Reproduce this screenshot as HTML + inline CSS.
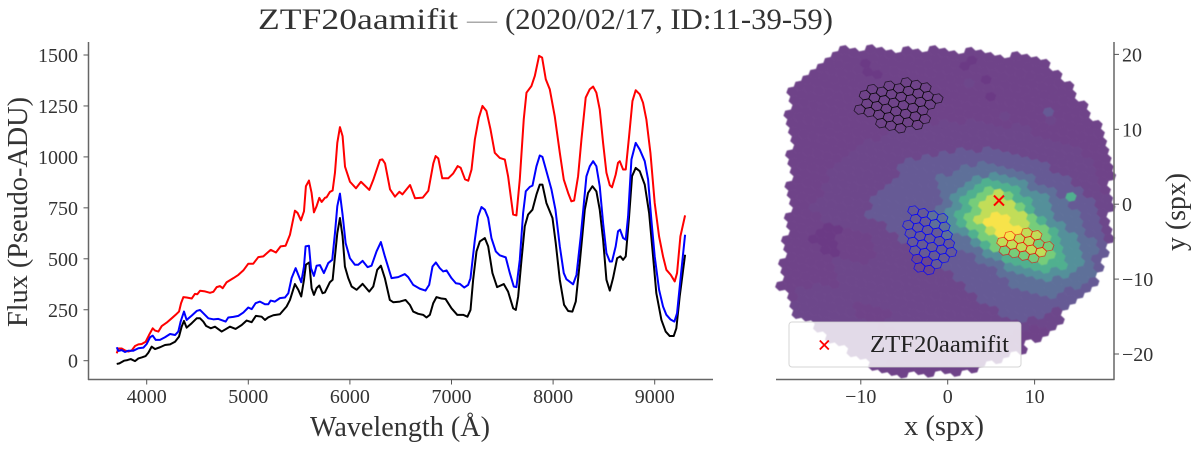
<!DOCTYPE html>
<html lang="en">
<head>
<meta charset="utf-8">
<title>ZTF20aamifit spectrum and IFU cube</title>
<style>
html,body{margin:0;padding:0;background:#fff;width:1200px;height:450px;overflow:hidden}
svg{display:block}
text{font-family:"Liberation Serif",serif;fill:#333}
#cube{filter:blur(0.5px)}
</style>
</head>
<body>
<svg id="fig" xmlns="http://www.w3.org/2000/svg" width="1200" height="450" viewBox="0 0 1200 450">
  <text x="258" y="29" font-size="30" textLength="200" lengthAdjust="spacingAndGlyphs">ZTF20aamifit</text>
  <text x="467" y="29" font-size="30" textLength="30" lengthAdjust="spacingAndGlyphs" style="fill:#aaa">—</text>
  <text x="505" y="29" font-size="30" textLength="328" lengthAdjust="spacingAndGlyphs">(2020/02/17, ID:11-39-59)</text>
  <g id="cube"></g>
  <g id="apertures"></g>
  <g id="spec"></g>
  <g id="axes"></g>
  <text x="400" y="436" font-size="28" text-anchor="middle" textLength="180" lengthAdjust="spacingAndGlyphs">Wavelength (Å)</text>
  <text transform="translate(27,212) rotate(-90)" font-size="28" text-anchor="middle" textLength="230" lengthAdjust="spacingAndGlyphs">Flux (Pseudo-ADU)</text>
  <text x="944" y="435" font-size="28" text-anchor="middle" textLength="80" lengthAdjust="spacingAndGlyphs">x (spx)</text>
  <text transform="translate(1185,212) rotate(-90)" font-size="28" text-anchor="middle" textLength="78" lengthAdjust="spacingAndGlyphs">y (spx)</text>
  <g>
    <rect x="789" y="322" width="232" height="45" rx="3" ry="3" fill="#fff" fill-opacity="0.8" stroke="#ccc" stroke-opacity="0.8" stroke-width="1"></rect>
    <g stroke="#f00" stroke-width="1.8">
      <line x1="819.8" y1="340.5" x2="828.8" y2="349.5"></line>
      <line x1="819.8" y1="349.5" x2="828.8" y2="340.5"></line>
    </g>
    <text x="870" y="352" font-size="24" textLength="139" lengthAdjust="spacingAndGlyphs" style="fill:#222">ZTF20aamifit</text>
  </g>
</svg>
<script>
const redWave = [3705,3721,3754,3787,3820,3852,3885,3918,3951,3990,4023,4059,4082,4115,4148,4197,4246,4295,4318,4338,4361,4393,4443,4475,4498,4525,4574,4623,4656,4689,4721,4748,4787,4853,4902,4951,5000,5049,5098,5148,5220,5272,5318,5367,5410,5459,5485,5518,5548,5567,5597,5623,5646,5672,5699,5722,5754,5771,5803,5830,5853,5876,5902,5928,5952,6001,6060,6109,6191,6230,6296,6319,6346,6395,6444,6487,6517,6592,6641,6717,6772,6821,6844,6870,6909,6968,7017,7061,7090,7133,7165,7197,7230,7269,7305,7344,7384,7426,7475,7525,7557,7607,7639,7672,7711,7738,7787,7820,7862,7892,7928,7967,8016,8066,8105,8148,8180,8207,8246,8279,8321,8361,8394,8426,8459,8492,8525,8558,8580,8616,8639,8656,8689,8715,8748,8781,8813,8853,8885,8918,8958,9000,9043,9082,9115,9158,9197,9220,9253,9299];
const redFlux = [36,60,60,50,45,50,72,80,82,93,126,159,148,143,170,187,208,230,241,282,312,310,305,328,326,343,340,333,338,361,366,356,385,405,421,443,476,476,508,512,544,531,561,564,618,736,725,689,733,856,884,823,728,758,799,779,799,802,828,835,922,1069,1146,1102,952,878,846,878,838,887,985,988,968,841,805,829,816,862,797,800,834,968,1004,993,895,895,919,955,947,890,883,938,1086,1192,1250,1225,1135,1020,995,987,905,717,713,889,1184,1315,1348,1397,1496,1487,1381,1332,1200,1020,889,823,782,786,905,1086,1291,1332,1345,1315,1233,1069,922,861,851,913,971,979,938,938,1102,1274,1327,1307,1266,1184,1020,774,610,512,446,421,389,430,610,713];
const blueWave = [3705,3721,3754,3787,3820,3869,3918,3967,4000,4033,4059,4089,4131,4180,4230,4279,4311,4334,4367,4393,4443,4492,4525,4557,4607,4656,4705,4777,4803,4853,4902,4951,5000,5033,5072,5115,5164,5197,5220,5262,5311,5361,5394,5426,5466,5492,5521,5548,5564,5597,5617,5646,5672,5705,5744,5787,5826,5853,5876,5902,5928,5958,6000,6049,6082,6125,6174,6213,6262,6305,6344,6410,6475,6541,6574,6623,6689,6744,6780,6813,6846,6885,6918,6951,7000,7043,7082,7125,7164,7187,7230,7262,7295,7328,7361,7393,7436,7475,7534,7574,7613,7639,7672,7705,7731,7771,7797,7836,7869,7895,7934,7984,8023,8066,8105,8131,8197,8230,8272,8328,8361,8394,8426,8459,8492,8525,8558,8580,8616,8639,8659,8689,8715,8738,8771,8813,8853,8902,8935,8967,9000,9043,9082,9115,9154,9194,9220,9253,9299];
const blueFlux = [66,48,52,43,49,49,61,64,82,115,123,102,102,115,131,126,143,192,241,200,221,244,249,233,208,203,205,192,212,215,220,236,261,253,282,290,277,277,295,290,307,310,331,405,454,421,385,462,561,564,454,416,466,469,430,479,495,626,758,820,717,577,503,471,471,490,459,466,536,582,512,405,410,425,410,372,353,344,372,462,482,454,438,443,405,380,377,359,372,405,594,708,754,741,700,602,536,517,507,430,364,361,495,725,831,853,859,954,1007,1000,930,840,741,561,430,400,375,421,610,905,954,979,954,856,676,528,487,487,561,635,643,602,594,708,987,1069,1036,979,889,692,512,348,266,225,203,192,233,397,618];
const blackWave = [3705,3731,3777,3810,3843,3885,3918,3951,3990,4016,4049,4082,4131,4180,4230,4279,4318,4344,4367,4393,4443,4492,4525,4557,4584,4630,4672,4738,4820,4875,4935,4984,5033,5075,5131,5164,5197,5246,5311,5377,5410,5459,5492,5521,5548,5567,5600,5623,5646,5672,5699,5731,5754,5803,5830,5853,5876,5902,5928,5951,5984,6017,6066,6125,6190,6230,6269,6305,6344,6393,6426,6492,6548,6590,6623,6672,6721,6754,6787,6820,6852,6902,6941,7000,7056,7115,7157,7187,7213,7246,7279,7328,7361,7403,7449,7515,7557,7607,7633,7656,7689,7721,7754,7797,7836,7869,7895,7934,7994,8026,8066,8108,8148,8190,8223,8262,8312,8344,8387,8426,8459,8492,8525,8558,8590,8630,8662,8689,8715,8748,8777,8813,8853,8902,8945,8984,9016,9066,9108,9148,9187,9213,9246,9299];
const blackFlux = [-16,-13,0,3,8,-2,11,16,23,39,69,57,66,77,80,93,118,167,195,162,184,208,208,192,171,159,167,143,167,156,175,197,189,220,216,200,213,223,228,266,298,376,348,315,397,471,482,356,323,356,369,331,335,385,397,512,626,700,610,462,405,364,348,377,339,364,446,466,405,298,287,290,298,274,241,230,225,212,225,282,312,305,303,257,225,225,216,249,397,536,585,602,561,430,361,376,339,257,249,315,495,659,717,741,815,864,864,774,700,577,397,274,244,241,290,479,741,823,856,831,741,594,397,344,405,503,512,495,512,708,905,946,930,864,725,512,331,200,143,121,121,159,315,520];

const fluxTicks = [0,250,500,750,1000,1250,1500];
const waveTicks = [4000,5000,6000,7000,8000,9000];
const spxXTicks = [-10,0,10];
const spxYTicks = [-20,-10,0,10,20];

/* spaxel flux levels (0-9), one string per lattice row; firstRow is the top row index */
const firstRow = -21;
const rowStart = [12,7,3,0,-4,-7,-8,-9,-10,-11,-12,-13,-14,-14,-14,-15,-15,-15,-15,-15,-16,-16,-16,-16,-17,-17,-17,-17,-18,-18,-18,-19,-19,-19,-20,-20,-20,-21,-20,-20,-20,-18,-17,-15,-13];
const fluxRows = [
"1111",
"1111111111",
"111101111111111",
"111111011111111111",
"11111111111101111111111",
"11111111111112111111111111",
"1110111111111111011111311111",
"11110011111111111111111211111",
"111111111111111111121111111111",
"1111111111111111111112211111111",
"11111111111111111222222222222111",
"111111111111111222222222222222211",
"1111111111111122222222222222222211",
"111111111111222222223333333222221",
"111111111122222223333333333332221",
"1111111111222222333344444433333222",
"1111111122222233334445555444363322",
"111111122222333334456666555443332",
"111111222223333444567876655444332",
"111112222223333445678887655444332",
"1111122222233333456788888765544332",
"111122222233333345678998877655443",
"111122222333333456789999887655443",
"11122222333333445677899887765543",
"111122222333333445567788888765543",
"11122222333333334445677777766544",
"11222222223333333444556666655443",
"1112222222233333333444555554443",
"1111001112222333333333444444433",
"111001111222222333333334444433",
"11000111122222222333333333333",
"11110011122222222223333333332",
"11111222222222222222333333322",
"1111122222222222222222333222",
"1111112222222222222222222211",
"111111222222222222222222111",
"1112222222222222222222111",
"11222222111122222222221111",
"12222221112222222222111",
"2222222221111222221111",
"22222222222211111111",
"22222222221111111",
"22222222111111",
"222211111",
"1111"
];
const levelColors = ["#6b3a85","#6f4389","#6d478b","#665a95","#5e7099","#54909a","#50b08f","#76cd7a","#c2dd58","#f7e34a"];

/* aperture spaxels: [row, first column, last column] */
const hostAperture = [[-14,-1,1],[-13,-3,2],[-12,-5,1],[-11,-6,0],[-10,-6,0],[-9,-7,-1],[-8,-5,-3]];
const skyAperture = [[2,-4,-1],[3,-4,-1],[4,-5,-1],[5,-5,-1],[6,-5,-1],[7,-5,-2],[8,-5,-3],[9,-5,-4]];
const snAperture = [[1,8,9],[2,6,10],[3,5,9],[4,5,8]];
const targetX = [5.9];
const targetY = [0.48];

const NS = 'http://www.w3.org/2000/svg';
const xWave = w => 146.7 + 0.1016 * (w - 4000);
const yFlux = f => 360.7 - 0.2038 * f;
const xSpx = v => 947.7 + 8.69 * v;
const ySpx = v => 204.2 - 7.49 * v;

/* hexagonal lattice of the micro-lens array, in spaxel units */
const latA = {x: 1.109, y: -0.341};
const latB = {x: 0.259, y: -1.133};
const latO = {x: -0.034, y: 0.053};

function make(tag, attrs, parent) {
  const el = document.createElementNS(NS, tag);
  for (const k in attrs) el.setAttribute(k, attrs[k]);
  parent.appendChild(el);
  return el;
}
function hexPoints(i, j) {
  const cx = latO.x + i * latA.x + j * latB.x;
  const cy = latO.y + i * latA.y + j * latB.y;
  const m = [[1,1],[-1,2],[-2,1],[-1,-1],[1,-2],[2,-1]];
  return m.map(p => {
    const vx = cx + (p[0] * latA.x + p[1] * latB.x) / 3;
    const vy = cy + (p[0] * latA.y + p[1] * latB.y) / 3;
    return xSpx(vx).toFixed(2) + ',' + ySpx(vy).toFixed(2);
  }).join(' ');
}

const cube = document.getElementById('cube');
const apertures = document.getElementById('apertures');
const spec = document.getElementById('spec');
const axes = document.getElementById('axes');

fluxRows.forEach((row, r) => {
  const j = firstRow + r;
  for (let p = 0; p < row.length; p++) {
    const color = levelColors[Number(row[p])];
    const hex = make('polygon', {points: hexPoints(rowStart[r] + p, j), fill: color, stroke: color, 'stroke-width': 0.5}, cube);
    
    
  }
});

function drawAperture(list, color, opacity, label) {
  list.forEach(seg => {
    for (let i = seg[1]; i <= seg[2]; i++) {
      const hex = make('polygon', {points: hexPoints(i, seg[0]), fill: 'none', stroke: color, 'stroke-opacity': opacity, 'stroke-width': 0.8}, apertures);
      
      
    }
  });
}
drawAperture(hostAperture, '#000', 0.7, 'host-aperture-spaxel');
drawAperture(skyAperture, '#0000ff', 0.8, 'blue-aperture-spaxel');
drawAperture(snAperture, '#f00000', 0.65, 'red-aperture-spaxel');

targetX.forEach((v, k) => {
  const px = xSpx(v), py = ySpx(targetY[k]);
  const g = make('g', {stroke: '#f00', 'stroke-width': 2}, spec);
  
  
  make('line', {x1: px - 5, y1: py - 5, x2: px + 5, y2: py + 5}, g);
  make('line', {x1: px - 5, y1: py + 5, x2: px + 5, y2: py - 5}, g);
});

function drawLine(waves, fluxes, color, label) {
  const pts = waves.map((w, k) => xWave(w).toFixed(2) + ',' + yFlux(fluxes[k]).toFixed(2)).join(' ');
  const line = make('polyline', {points: pts, fill: 'none', stroke: color, 'stroke-width': 2, 'stroke-linejoin': 'round'}, spec);
  
  
}
drawLine(blackWave, blackFlux, '#000', 'spectrum-black');
drawLine(redWave, redFlux, '#f00', 'spectrum-red');
drawLine(blueWave, blueFlux, '#00f', 'spectrum-blue');

const SP = {stroke: '#666', 'stroke-width': 1.5};
function spine(x1, y1, x2, y2, label) {
  const s = make('line', Object.assign({x1, y1, x2, y2}, SP), axes);
  
  
}
spine(88.5, 42, 88.5, 380, 'spectrum-left-spine');
spine(88, 379.5, 713, 379.5, 'spectrum-bottom-spine');
spine(776, 379.5, 1114.5, 379.5, 'cube-bottom-spine');
spine(1114, 42, 1114, 380, 'cube-right-spine');

function tick(x1, y1, x2, y2) {
  const t = make('line', {x1, y1, x2, y2, stroke: '#555', 'stroke-width': 1}, axes);
  
  
}
function label(str, x, y, anchor) {
  const t = make('text', {x, y, 'font-size': 20, 'text-anchor': anchor}, axes);
  t.textContent = str;
  
  
}
const fmt = v => (v < 0 ? '\u2212' + (-v) : String(v));

fluxTicks.forEach(v => {
  tick(83.5, yFlux(v), 88.5, yFlux(v));
  label(fmt(v), 78, yFlux(v) + 7, 'end');
});
waveTicks.forEach(v => {
  tick(xWave(v), 379.5, xWave(v), 384.5);
  label(fmt(v), xWave(v), 403, 'middle');
});
spxXTicks.forEach(v => {
  tick(xSpx(v), 379.5, xSpx(v), 384.5);
  label(fmt(v), xSpx(v), 403, 'middle');
});
spxYTicks.forEach(v => {
  tick(1114, ySpx(v), 1119, ySpx(v));
  label(fmt(v), 1122, ySpx(v) + 7, 'start');
});
</script>
</body>
</html>
